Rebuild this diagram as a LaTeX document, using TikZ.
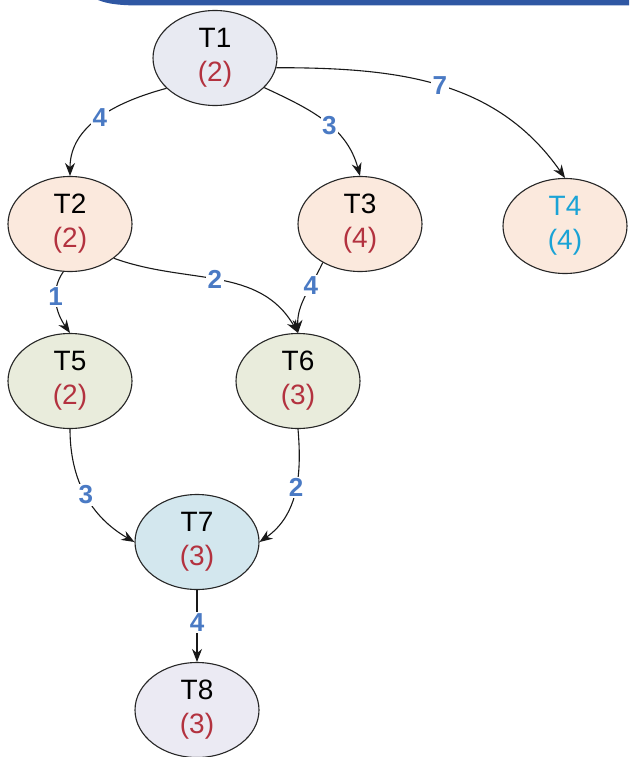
\documentclass[tikz,border=0pt]{standalone}
\usepackage{fontspec}
\setmainfont{Liberation Sans}
\usetikzlibrary{shapes.geometric,arrows.meta}
\definecolor{barblue}{HTML}{2F57A3}
\definecolor{lblblue}{HTML}{4A7AC4}
\definecolor{wred}{HTML}{B3323F}
\definecolor{tcyan}{HTML}{1AA3D6}
\definecolor{fa}{HTML}{E8EAF2}
\definecolor{fb}{HTML}{FBE9DD}
\definecolor{fc}{HTML}{E9ECDC}
\definecolor{fd}{HTML}{D3E7EE}
\definecolor{fe}{HTML}{EBEAF3}
\tikzset{
  task/.style={ellipse, draw=black!85, line width=1.1pt, minimum width=124pt, minimum height=95pt, inner sep=0pt, align=center, font=\fontsize{28}{34}\selectfont},
  lbl/.style={fill=white, inner sep=1.5pt, text=lblblue, font=\fontsize{26}{26}\selectfont\bfseries},
  edge/.style={draw=black!90, line width=1.1pt, -{Stealth[length=13pt,width=10pt]}}
}
\begin{document}
\begin{tikzpicture}[x=1pt,y=1pt]
\useasboundingbox (0,0) rectangle (629,-757);
\fill[barblue] (98,0) .. controls (108,-4) and (118,-5) .. (135,-5.5) -- (629,-5.5) -- (629,0) -- cycle;
\node[task, fill=fa] (t1) at (215,-58) {T1\\\textcolor{wred}{(2)}};
\node[task, fill=fb] (t2) at (70,-224) {T2\\\textcolor{wred}{(2)}};
\node[task, fill=fb] (t3) at (360,-224) {T3\\\textcolor{wred}{(4)}};
\node[task, fill=fb, text=tcyan] (t4) at (565,-226) {T4\\(4)};
\node[task, fill=fc] (t5) at (70,-381) {T5\\\textcolor{wred}{(2)}};
\node[task, fill=fc] (t6) at (298,-381) {T6\\\textcolor{wred}{(3)}};
\node[task, fill=fd] (t7) at (197,-542) {T7\\\textcolor{wred}{(3)}};
\node[task, fill=fe] (t8) at (197,-710) {T8\\\textcolor{wred}{(3)}};
\draw[edge] (t1.212) to[out=195,in=90] node[lbl,pos=0.5] {4} (t2.north);
\draw[edge] (t1.329) to[out=-25,in=105] node[lbl,pos=0.55] {3} (t3.north);
\draw[edge] (t1.-9) to[out=0,in=125] node[lbl,pos=0.5] {7} (t4.north);
\draw[edge] (t2.262) to[out=235,in=125] node[lbl,pos=0.4] {1} (t5.north);
\draw[edge] (t2.-38) to[out=-20,in=120] node[lbl,pos=0.48] {2} (t6.north);
\draw[edge] (t3.226) to[out=245,in=92] node[lbl,pos=0.33] {4} (t6.north);
\draw[edge] (t5.south) to[out=-90,in=150] node[lbl,pos=0.5] {3} (t7.west);
\draw[edge] (t6.south) to[out=-85,in=35] node[lbl,pos=0.45] {2} (t7.east);
\draw[edge] (t7.south) -- node[lbl,pos=0.45] {4} (t8.north);
\end{tikzpicture}
\end{document}
